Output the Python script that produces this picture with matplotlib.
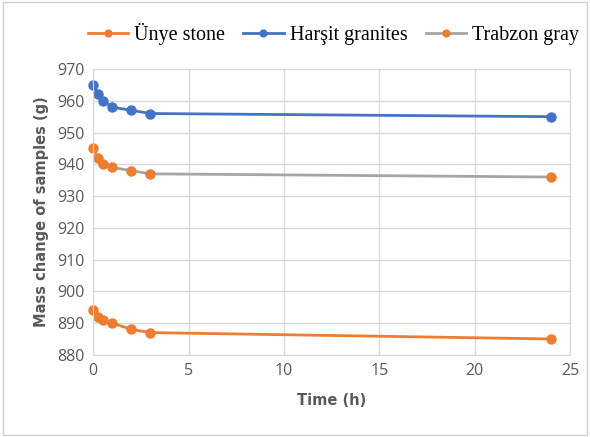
import matplotlib
matplotlib.use('Agg')
import matplotlib.pyplot as plt
from matplotlib.patches import Rectangle

# Data
time_h = [0, 0.25, 0.5, 1, 2, 3, 24]
unye = [894, 892, 891, 890, 888, 887, 885]
harsit = [965, 962, 960, 958, 957, 956, 955]
trabzon = [945, 942, 940, 939, 938, 937, 936]

orange = '#ED7D31'
blue = '#4472C4'
gray = '#A5A5A5'
grid_c = '#D9D9D9'
text_c = '#595959'

fig = plt.figure(figsize=(5.9, 4.37), dpi=100)
ax = fig.add_axes([0.158, 0.188, 0.808, 0.654])

ax.plot(time_h, unye, color=orange, lw=2, marker='o', ms=6.5,
        mfc=orange, mec=orange, label='Ünye stone', clip_on=False)
ax.plot(time_h, harsit, color=blue, lw=2, marker='o', ms=6.5,
        mfc=blue, mec=blue, label='Harşit granites', clip_on=False)
ax.plot(time_h, trabzon, color=gray, lw=2, marker='o', ms=6.5,
        mfc=orange, mec=orange, label='Trabzon gray', clip_on=False)

ax.set_xlim(0, 25)
ax.set_ylim(880, 970)
ax.set_xticks(range(0, 26, 5))
ax.set_yticks(range(880, 971, 10))
ax.grid(True, color=grid_c, lw=1)
ax.set_axisbelow(True)
for s in ax.spines.values():
    s.set_color(grid_c)
ax.tick_params(length=0, labelsize=11.5, labelcolor=text_c, pad=6)
for lab in ax.get_xticklabels() + ax.get_yticklabels():
    lab.set_family('Open Sans')

ax.set_xlabel('Time (h)', fontsize=10.5, fontweight='bold', color=text_c,
              family='DejaVu Sans', labelpad=10)
ax.set_ylabel('Mass change of samples (g)', fontsize=10.5, fontweight='bold',
              color=text_c, family='DejaVu Sans', labelpad=6)

fig.legend(loc='upper center', bbox_to_anchor=(0.565, 0.99), ncol=3,
           frameon=False, prop={'family': 'Liberation Serif', 'size': 14.5},
           handlelength=2.0, handletextpad=0.3, columnspacing=0.9,
           markerscale=0.75)

fig.patches.append(Rectangle((0.005, 0.005), 0.99, 0.99, transform=fig.transFigure,
                             fill=False, ec='#D0D0D0', lw=1))

fig.savefig('out.png', dpi=100)
